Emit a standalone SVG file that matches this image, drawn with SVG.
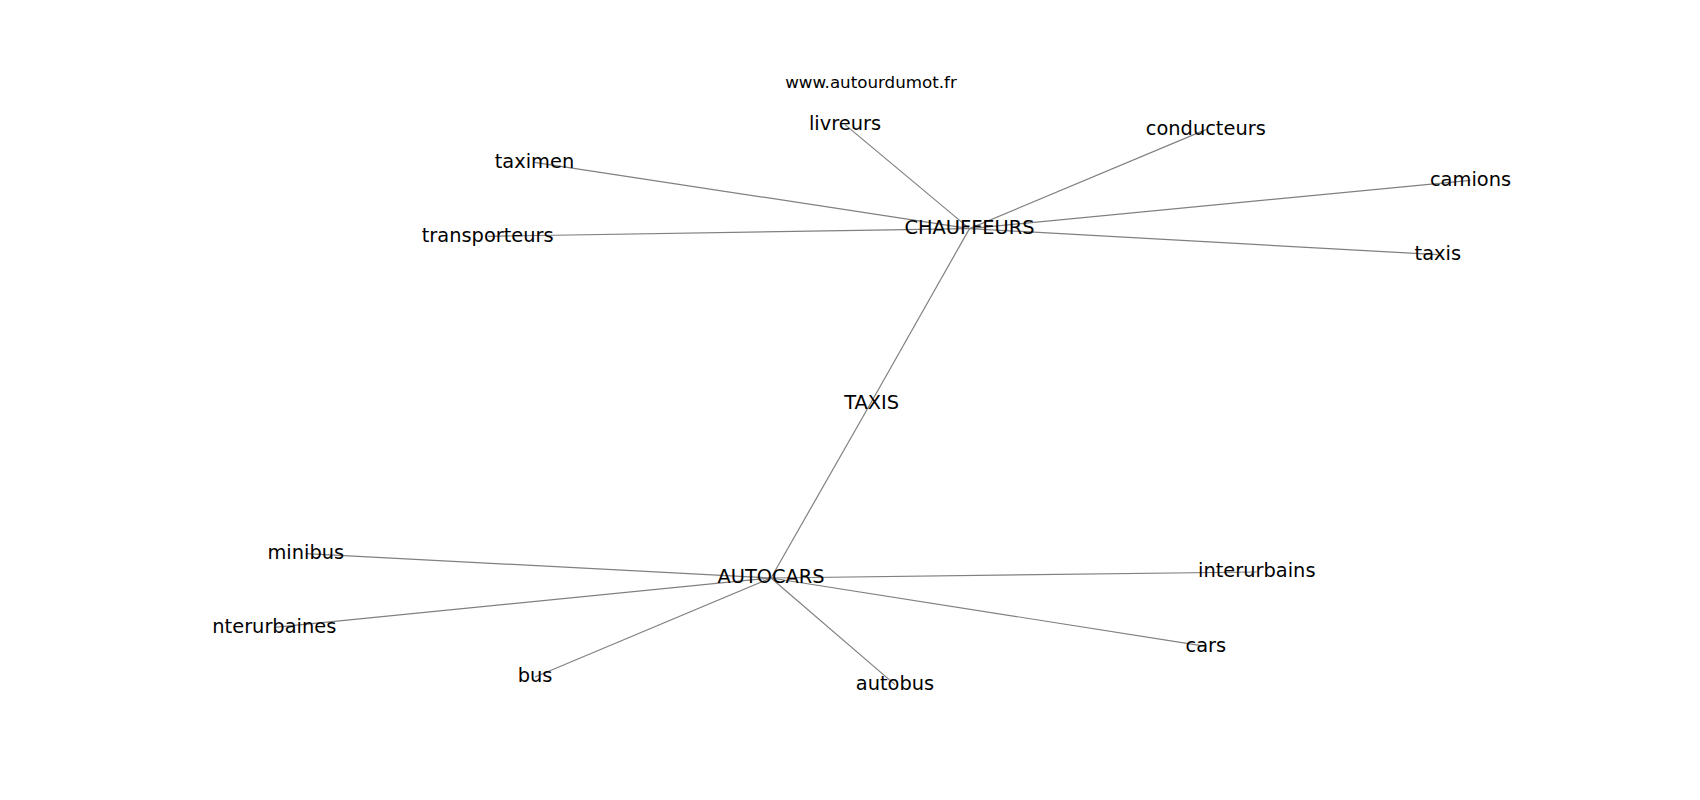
<svg xmlns="http://www.w3.org/2000/svg" width="1700" height="800" viewBox="0 0 1700 800">
<style>
.e{stroke:#808080;stroke-width:1.2;fill:none}
.l{font-family:"DejaVu Sans",sans-serif;font-size:19.4px;fill:#000;text-anchor:middle}
.t{font-family:"DejaVu Sans",sans-serif;font-size:16.7px;fill:#000;text-anchor:middle}
</style>
<rect width="1700" height="800" fill="#fff"/>
<text class="t" x="871" y="88">www.autourdumot.fr</text>
<g id="edges">
<line class="e" x1="969.5" y1="228.6" x2="845" y2="124.6"/>
<line class="e" x1="969.5" y1="228.6" x2="1205.8" y2="129.6"/>
<line class="e" x1="969.5" y1="228.6" x2="534.5" y2="162.3"/>
<line class="e" x1="969.5" y1="228.6" x2="1470.5" y2="180.3"/>
<line class="e" x1="969.5" y1="228.6" x2="487.7" y2="236.3"/>
<line class="e" x1="969.5" y1="228.6" x2="1437.8" y2="254.6"/>
<line class="e" x1="969.5" y1="228.6" x2="870.5" y2="403.5"/>
<line class="e" x1="870.5" y1="403.5" x2="771" y2="578"/>
<line class="e" x1="771" y1="578" x2="305.8" y2="553.6"/>
<line class="e" x1="771" y1="578" x2="274.3" y2="627.3"/>
<line class="e" x1="771" y1="578" x2="535" y2="677"/>
<line class="e" x1="771" y1="578" x2="895" y2="684.6"/>
<line class="e" x1="771" y1="578" x2="1205.8" y2="646.3"/>
<line class="e" x1="771" y1="578" x2="1256.8" y2="572"/>
</g>
<g id="n-chauffeurs"><text class="l" x="969.5" y="234">CHAUFFEURS</text></g>
<g id="n-livreurs"><text class="l" x="845" y="130">livreurs</text></g>
<g id="n-conducteurs"><text class="l" x="1205.8" y="135">conducteurs</text></g>
<g id="n-taximen"><text class="l" x="534.5" y="167.7">taximen</text></g>
<g id="n-camions"><text class="l" x="1470.5" y="185.7">camions</text></g>
<g id="n-transporteurs"><text class="l" x="487.7" y="241.7">transporteurs</text></g>
<g id="n-taxis"><text class="l" x="1437.8" y="260">taxis</text></g>
<g id="n-TAXIS"><text class="l" x="871.7" y="409.3">TAXIS</text></g>
<g id="n-autocars"><text class="l" x="771" y="583.3">AUTOCARS</text></g>
<g id="n-minibus"><text class="l" x="305.8" y="559">minibus</text></g>
<g id="n-nterurbaines"><text class="l" x="274.3" y="632.7">nterurbaines</text></g>
<g id="n-bus"><text class="l" x="535" y="682.3">bus</text></g>
<g id="n-autobus"><text class="l" x="895" y="690">autobus</text></g>
<g id="n-cars"><text class="l" x="1205.8" y="651.7">cars</text></g>
<g id="n-interurbains"><text class="l" x="1256.8" y="577.3">interurbains</text></g>
</svg>
